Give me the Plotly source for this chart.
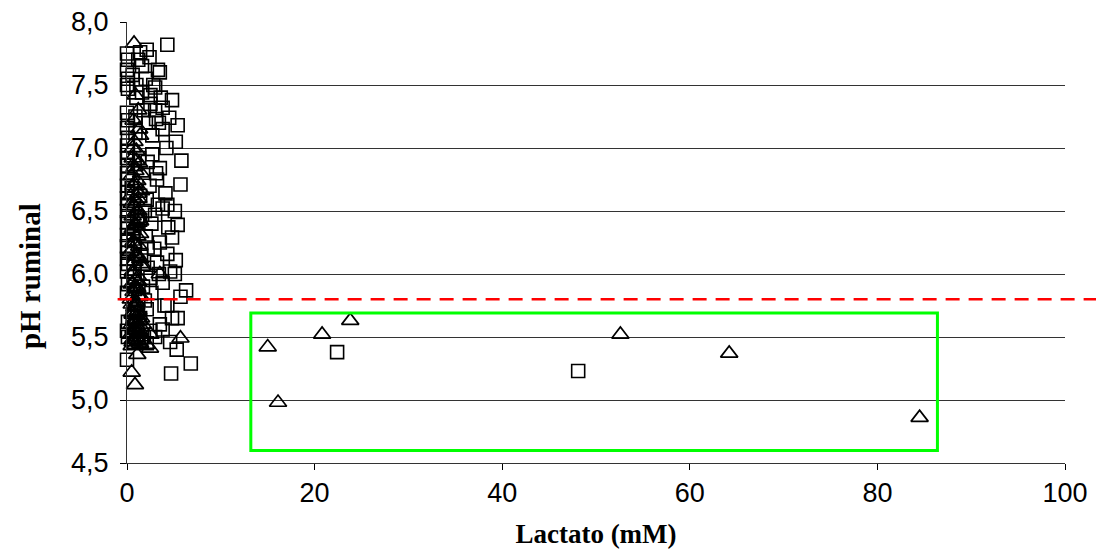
import plotly.graph_objects as go

# ---- data ----
sq_x = [0.0, 0.1, 0.0, 0.1, 0.0, 0.1, 0.0, 0.1, 0.0, 0.1, 0.0, 0.1, 0.0, 0.1, 0.0, 0.1, 0.0,
        0.1, 0.0, 0.1, 0.0, 0.1, 0.0, 0.1, 0.0, 0.1, 0.0, 0.1, 0.0, 0.1, 0.0, 0.1, 0.0, 0.1,
        0.0, 0.1, 0.0,
        4.3, 2.1, 1.4, 3.5, 3.0, 1.6, 2.5, 4.8, 3.8, 4.5, 3.1, 5.4, 3.8, 2.7, 4.2, 5.2, 5.8,
        2.2, 3.5, 3.2, 5.7, 4.1, 2.1, 4.3, 5.1, 3.8, 3.0, 1.4, 4.4, 5.4, 4.8, 3.5, 2.2, 4.3,
        5.2, 3.2, 4.6, 5.1, 2.5, 3.8, 6.3, 5.7, 1.9, 4.3, 4.8, 5.4, 3.8, 3.0, 1.5, 2.1, 4.6,
        5.3, 6.8, 4.7,
        1.2, 1.6, 2.4, 1.0, 2.0, 2.8, 3.3, 2.5, 3.6, 1.8, 2.3, 3.0, 3.4, 2.7, 3.1, 2.4, 1.9,
        2.6, 3.3, 2.0, 2.9, 2.2, 3.4, 1.7, 2.6, 2.1, 1.4, 2.5, 3.5, 4.0, 1.8,
        0.6, 0.9, 1.3, 0.5, 1.1, 0.7, 1.5, 0.8, 1.2, 0.6, 1.0, 1.4, 0.7, 1.1, 0.9,
        22.4, 48.1]
sq_y = [7.75, 7.70, 7.62, 7.55, 7.50, 7.47, 7.28, 7.22, 7.16, 7.08, 7.02, 6.97, 6.92, 6.86,
        6.80, 6.75, 6.70, 6.65, 6.60, 6.55, 6.50, 6.46, 6.41, 6.36, 6.31, 6.27, 6.22, 6.17,
        6.12, 6.08, 6.02, 5.92, 5.85, 5.62, 5.55, 5.50, 5.32,
        7.82, 7.78, 7.76, 7.60, 7.48, 7.44, 7.42, 7.38, 7.32, 7.24, 7.23, 7.18, 7.15, 7.10,
        7.00, 7.05, 6.90, 6.89, 6.84, 6.75, 6.71, 6.64, 6.59, 6.55, 6.50, 6.52, 6.47, 6.43,
        6.37, 6.39, 6.29, 6.25, 6.21, 6.16, 6.11, 6.09, 6.02, 6.00, 5.97, 5.93, 5.87, 5.82,
        5.79, 5.75, 5.65, 5.65, 5.56, 5.50, 5.48, 5.45, 5.46, 5.40, 5.29, 5.21,
        7.70, 7.65, 7.72, 7.50, 7.55, 7.50, 7.62, 7.35, 7.40, 7.30, 7.20, 7.30, 7.20, 6.95,
        6.80, 6.70, 6.50, 6.40, 6.55, 6.30, 6.20, 6.05, 6.00, 5.90, 5.85, 5.72, 5.65, 5.55,
        5.60, 5.75, 5.50,
        7.58, 7.12, 6.92, 6.68, 6.45, 6.33, 6.15, 5.98, 5.80, 5.66, 7.40, 6.62, 6.08, 5.70, 7.25,
        5.38, 5.23]

tri_x = [0.75, 0.9, 1.2, 0.7, 1.4, 0.8, 1.0, 0.6, 1.3, 0.9, 0.5, 1.1, 0.7, 1.5, 0.4, 1.0,
         0.8, 1.2, 0.6, 1.4, 0.9, 0.5, 1.1, 0.7, 1.3, 0.4, 1.0, 0.8, 1.6, 0.6, 1.2, 0.9, 0.5,
         1.1, 0.7, 1.4, 0.4, 1.0, 0.8, 1.2, 0.6, 1.5, 0.9, 0.5, 1.1, 0.7, 1.3, 0.4, 1.0, 0.8,
         1.2, 0.6, 1.4, 0.9, 0.5, 1.1, 0.7, 1.3, 0.6, 1.0,
         1.3, 0.6, 1.0, 1.5, 0.8, 1.2, 0.5, 1.1, 0.9, 1.4, 0.7, 1.0, 1.6, 0.6, 1.2, 0.9, 1.3,
         0.5, 1.1, 0.8, 1.5, 0.7, 1.0, 1.2, 0.6, 1.4, 0.9, 1.1, 0.8, 1.3, 0.6, 1.0, 1.7, 0.9,
         0.85, 0.5, 1.1, 2.1, 5.7, 0.6, 1.5, 2.5, 3.5, 2.45,
         15.0, 16.1, 20.8, 23.8, 52.6, 64.2, 84.5]
tri_y = [7.83, 7.42, 7.30, 7.22, 7.10, 7.05, 6.98, 6.92, 6.88, 6.82, 6.78, 6.74, 6.70,
         6.66, 6.62, 6.58, 6.54, 6.50, 6.46, 6.42, 6.38, 6.34, 6.30, 6.26, 6.22, 6.18, 6.14,
         6.10, 6.06, 6.02, 5.98, 5.95, 5.92, 5.89, 5.86, 5.83, 5.80, 5.77, 5.74, 5.71, 5.68,
         5.65, 5.62, 5.60, 5.58, 5.56, 5.54, 5.52, 5.50, 5.48, 5.47, 5.46, 5.45, 5.44, 5.43,
         5.52, 5.57, 5.63, 5.69, 5.75,
         7.15, 7.00, 6.90, 6.80, 6.72, 6.64, 6.56, 6.48, 6.40, 6.32, 6.24, 6.16, 6.08, 6.00,
         5.94, 5.88, 5.82, 5.76, 5.70, 5.64, 5.58, 5.53, 5.49, 6.60, 6.36, 6.12, 5.90, 5.67,
         6.85, 6.44, 6.20, 5.78, 5.60, 5.55,
         5.12, 5.22, 5.36, 5.44, 5.49, 5.48, 5.50, 5.52, 6.00, 5.41,
         5.42, 4.98, 5.52, 5.63, 5.52, 5.37, 4.86]

x_ticks = [0, 20, 40, 60, 80, 100]
y_ticks = [4.5, 5.0, 5.5, 6.0, 6.5, 7.0, 7.5, 8.0]
threshold = 5.8
box_x = [13.2, 86.4]
box_y = [4.60, 5.69]

fig = go.Figure()
fig.add_trace(go.Scatter(
    x=sq_x, y=sq_y, mode="markers",
    marker=dict(symbol="square-open", size=13, color="black", line=dict(width=1.6)),
    showlegend=False, cliponaxis=False))
fig.add_trace(go.Scatter(
    x=tri_x, y=tri_y, mode="markers",
    marker=dict(symbol="triangle-up-open", size=15, color="black", line=dict(width=1.7)),
    showlegend=False, cliponaxis=False))

fig.add_shape(type="line", xref="paper", yref="y", x0=-0.01, x1=1.035,
              y0=threshold, y1=threshold,
              line=dict(color="red", width=2.5, dash="14px,9px"))
fig.add_shape(type="rect", xref="x", yref="y", x0=box_x[0], x1=box_x[1],
              y0=box_y[0], y1=box_y[1], line=dict(color="#00ff00", width=3))

fig.add_annotation(text="<b>pH ruminal</b>", textangle=-90, xref="paper", yref="paper",
                   x=-0.1034, y=0.424, xanchor="center", yanchor="middle", showarrow=False,
                   font=dict(family="Liberation Serif, Times New Roman, serif", size=29))

fig.update_layout(
    width=1096, height=549,
    margin=dict(l=127, r=31, t=22, b=86),
    paper_bgcolor="white", plot_bgcolor="white",
    separators=", ",
    font=dict(family="Liberation Sans, Arial, sans-serif", size=27, color="black"),
    xaxis=dict(range=[0, 100], tickvals=x_ticks, ticks="outside", ticklen=6,
               tickcolor="black", showline=True, linecolor="#333", linewidth=1,
               showgrid=False, zeroline=False, automargin=False,
               title=dict(text="<b>Lactato (mM)</b>", standoff=19,
                          font=dict(family="Liberation Serif, Times New Roman, serif", size=27))),
    yaxis=dict(range=[4.5, 8.0], tickvals=y_ticks, tickformat=".1f", ticks="outside",
               ticklen=6, tickcolor="black", showline=True, linecolor="#333", linewidth=1,
               showgrid=True, gridcolor="#333", gridwidth=1, zeroline=False, automargin=False,
               ticklabelstandoff=6),
)

fig.write_html("out.html")
